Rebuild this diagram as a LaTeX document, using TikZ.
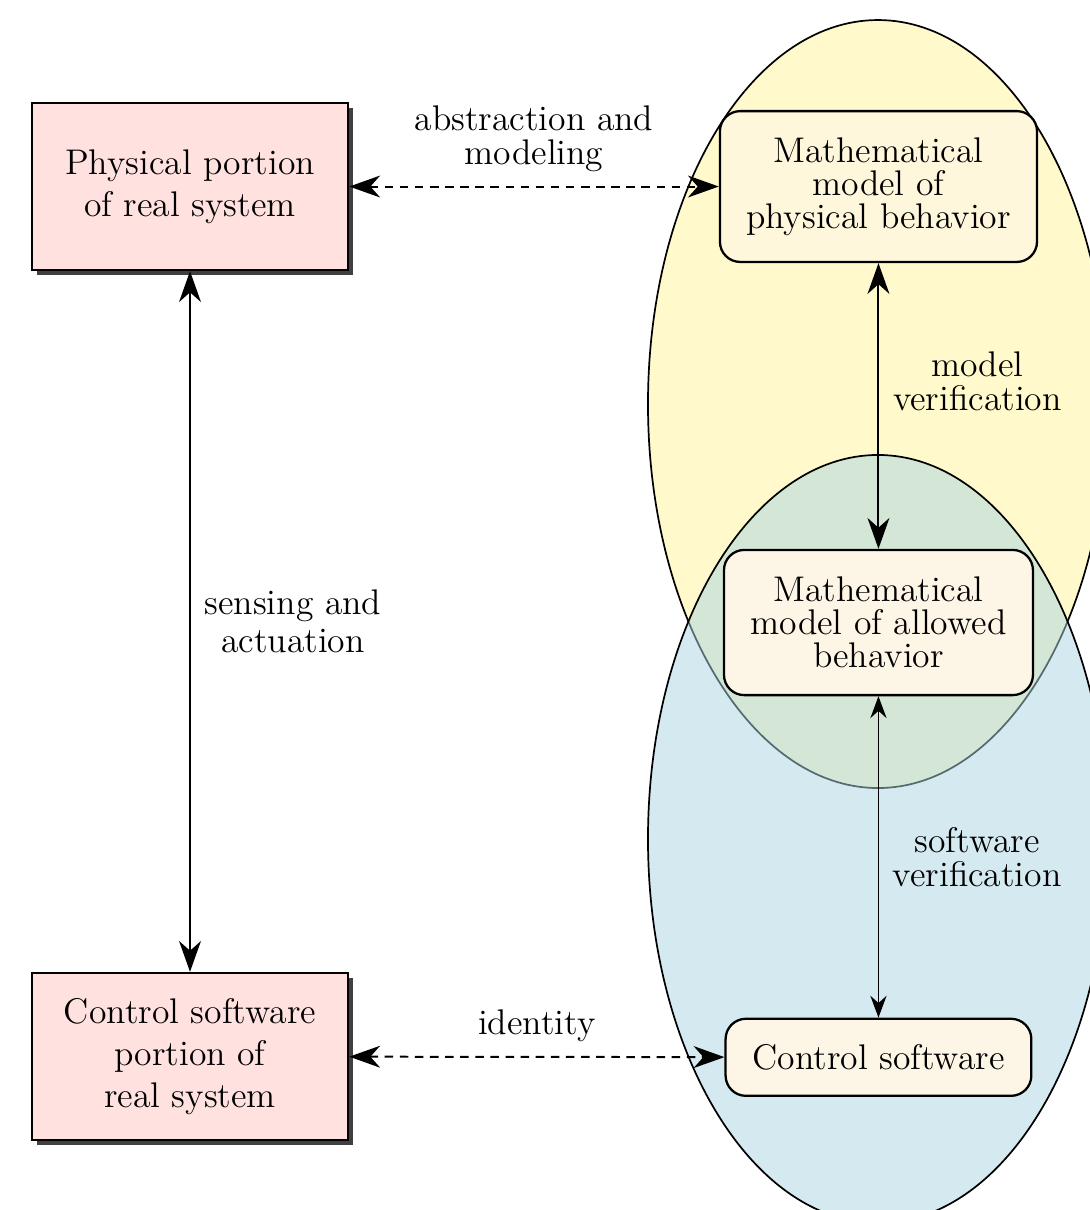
\documentclass[tikz,border=0pt]{standalone}
\usepackage{xcolor}
\usepackage{tikz}
\usetikzlibrary{shapes,arrows}
\usetikzlibrary{arrows.meta}
\usetikzlibrary{shadows}
\definecolor{realpink}{RGB}{255,226,224}
\definecolor{modelyellow}{RGB}{255,249,204}
\definecolor{softblue}{RGB}{171,213,225}
\definecolor{modelcream}{RGB}{253,245,230}

\begin{document}
\begin{tikzpicture}
        \tikzstyle{realblock} = [rectangle, draw, thick, fill=realpink, align=center, minimum width=3.9cm, minimum height=2.06cm, font=\fontsize{12.5}{14.8}\selectfont, drop shadow={shadow xshift=1.75pt, shadow yshift=-1.75pt, fill=black!75, opacity=1}]
        \tikzstyle{modelblock} = [rectangle, draw, thick, fill=modelcream, align=center, rounded corners=2.5mm, font=\fontsize{12.5}{11.6}\selectfont]
        \tikzstyle{line} = [draw, line width=0.7pt, {Stealth[length=3.8mm, width=2.7mm, inset=1.2mm]}-{Stealth[length=3.8mm, width=2.7mm, inset=1.2mm]}]
        \tikzstyle{thinline} = [draw, line width=0.55pt, {Stealth[length=2.7mm, width=2mm, inset=0.9mm]}-{Stealth[length=2.7mm, width=2mm, inset=0.9mm]}]
        \tikzstyle{lbl} = [align=center, font=\fontsize{12.5}{11.8}\selectfont]

        \useasboundingbox (0,0) rectangle (13.428,-14.920);

        \draw [semithick, fill=modelyellow] (10.826,-4.982) ellipse (2.836cm and 4.735cm);
        \draw [semithick, fill=softblue, fill opacity=0.5] (10.826,-10.345) ellipse (2.836cm and 4.735cm);

        \node [realblock] (physical) at (2.343,-2.300) {Physical portion\\of real system};
        \node [realblock, below of=physical, node distance=10.727cm] (controlreal) {Control software\\portion of\\real system};
        \node [modelblock, fill=modelcream!60!modelyellow, minimum width=3.91cm, minimum height=1.86cm, right of=physical, node distance=8.489cm] (physmodel) {Mathematical\\model of\\physical behavior};
        \node [modelblock, minimum width=3.81cm, minimum height=1.79cm, below of=physmodel, node distance=5.376cm] (allowedmodel) {Mathematical\\model of allowed\\behavior};
        \node [modelblock, minimum width=3.77cm, minimum height=0.95cm, below of=allowedmodel, node distance=5.361cm] (controlsw) {Control software};

        \path [line, dash pattern=on 3pt off 2.3pt] (physical) -- node[midway, above, lbl, yshift=1.5pt] {abstraction and\\modeling} (physmodel);
        \path [line] (physical) -- node[midway, right, align=center, xshift=0.5mm, font=\fontsize{12.5}{13.3}\selectfont] {sensing and\\actuation} (controlreal);
        \path [line] (physmodel) -- node[midway, right, lbl, xshift=0.5mm, yshift=3mm] {model\\verification} (allowedmodel);
        \path [thinline] (allowedmodel) -- node[midway, right, lbl, xshift=0.5mm] {software\\verification} (controlsw);
        \path [line, dash pattern=on 3pt off 2.3pt] (controlreal) -- node[midway, above, lbl, yshift=1.5pt] {identity} (controlsw);
    \end{tikzpicture}
\end{document}
